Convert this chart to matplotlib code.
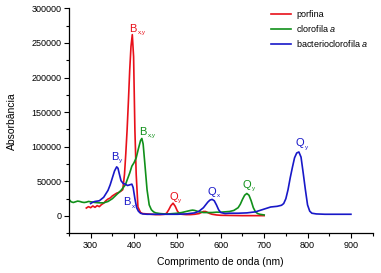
import matplotlib
matplotlib.use('Agg')
import matplotlib.pyplot as plt
from matplotlib.ticker import MultipleLocator

plt.rcParams['font.family'] = ['Liberation Sans', 'DejaVu Sans']
plt.rcParams['mathtext.fontset'] = 'custom'
plt.rcParams['mathtext.rm'] = 'Liberation Sans'
plt.rcParams['mathtext.it'] = 'Liberation Sans:italic'

# porfina
red_x = [290, 295, 300, 305, 310, 315, 320, 325, 330, 335, 340, 345, 350, 355,
         360, 365, 370, 374, 378, 381, 384, 387, 390, 393, 396, 399, 402, 405,
         409, 415, 420, 430, 440, 450, 460, 470, 475, 480, 485, 490, 495, 500,
         505, 510, 520, 530, 540, 550, 555, 560, 565, 570, 575, 580, 590, 600,
         620, 650, 680, 700]
red_y = [11500, 13500, 12000, 14500, 12500, 15000, 13500, 16500, 18500, 22000,
         24500, 26000, 29000, 31000, 33000, 34000, 36000, 38000, 60000, 90000,
         124000, 165000, 210000, 245000, 262000, 230000, 124000, 60000,
         13000, 5000, 3500, 3000, 2500, 2000, 2000, 2500, 4000, 9000, 15000,
         18500, 14000, 7000, 3500, 2500, 2000, 2000, 2500, 3500, 5000, 6500,
         6500, 5000, 3500, 2500, 1500, 1000, 800, 500, 500, 500]

# clorofila a
green_x = [250, 255, 260, 265, 270, 275, 280, 285, 290, 295, 300, 310, 320,
           330, 340, 350, 360, 370, 380, 390, 395, 400, 405, 410, 415, 418,
           421, 425, 430, 435, 440, 445, 450, 460, 470, 480, 490, 500, 510,
           520, 530, 535, 540, 550, 560, 570, 580, 590, 600, 610, 620, 630,
           640, 645, 650, 655, 660, 665, 670, 675, 680, 685, 690, 695, 700]
green_y = [24000, 20500, 19500, 20500, 21500, 21000, 20000, 19500, 20000, 21000,
           20500, 19500, 19000, 19000, 21000, 25000, 31000, 37000, 45000, 62000,
           72000, 77000, 84000, 97000, 109000, 112000, 104000, 75000, 38000,
           16000, 9000, 6000, 4500, 3500, 3000, 3000, 3500, 4000, 5000, 6500,
           8000, 8500, 8000, 6000, 5000, 5000, 5000, 5500, 5500, 6000, 6500,
           8000, 12000, 17000, 24000, 30000, 32500, 30000, 22000, 12000, 6000,
           3500, 2500, 2000, 1500]

# bacterioclorofila a
blue_x = [300, 305, 310, 320, 330, 340, 345, 350, 355, 360, 363, 366, 370,
          375, 380, 385, 390, 395, 398, 402, 406, 410, 415, 420, 430, 440,
          460, 480, 500, 520, 540, 550, 560, 565, 570, 575, 580, 585, 590,
          595, 600, 610, 620, 640, 660, 680, 690, 700, 715, 730, 740, 745,
          750, 755, 760, 765, 770, 775, 780, 785, 790, 795, 800, 805, 810,
          820, 840, 860, 880, 900]
blue_y = [18000, 20000, 21000, 22000, 27000, 37000, 45000, 55000, 65000, 71000,
          69000, 61000, 51000, 47000, 46000, 44000, 45000, 46000, 41000, 25000,
          12000, 7000, 4000, 3000, 2500, 2500, 2500, 2500, 2500, 3000, 4500,
          7000, 12000, 16000, 20000, 23000, 24000, 22000, 16000, 9000, 5000,
          3500, 4000, 4000, 4500, 6000, 8000, 10000, 13000, 14000, 15500, 18000,
          25000, 38000, 55000, 70000, 84000, 91000, 92500, 85000, 62000, 38000,
          16000, 7000, 4000, 3000, 2500, 2500, 2500, 2500]

series_names = ['porfina', 'clorofila $a$', 'bacterioclorofila $a$']
colors = ['#e8101a', '#10901a', '#1818c8']

# band labels: (letter, subscript, x, y, color index)
bands = [
    ('B', 'x,y', 389, 266000, 0),
    ('B', 'x,y', 412, 117000, 1),
    ('B', 'y', 347, 81000, 2),
    ('B', 'x', 376, 15500, 2),
    ('Q', 'y', 481, 23500, 0),
    ('Q', 'x', 569, 31000, 2),
    ('Q', 'y', 650, 40500, 1),
    ('Q', 'y', 773, 101000, 2),
]

fig = plt.figure(figsize=(3.81, 2.73), dpi=100)
ax = fig.add_axes([0.181, 0.1454, 0.797, 0.8242])

for xs, ys, name, c in zip([red_x, green_x, blue_x], [red_y, green_y, blue_y],
                           series_names, colors):
    ax.plot(xs, ys, color=c, linewidth=1.2, label=name)

for letter, sub, x, y, ci in bands:
    ax.text(x, y, letter, color=colors[ci], fontsize=8, ha='left', va='baseline')
    dx = 6.0 if letter == 'B' else 6.6
    ax.annotate(sub, xy=(x, y), xytext=(dx, -1.8), textcoords='offset points',
                color=colors[ci], fontsize=4.5, ha='left', va='baseline')

ax.set_xlim(250, 950)
ax.set_ylim(-25000, 300000)
ax.xaxis.set_major_locator(MultipleLocator(100))
ax.xaxis.set_minor_locator(MultipleLocator(50))
ax.yaxis.set_major_locator(MultipleLocator(50000))
ax.yaxis.set_minor_locator(MultipleLocator(25000))
ax.set_xticks([300, 400, 500, 600, 700, 800, 900])

for side in ['top', 'right']:
    ax.spines[side].set_visible(False)
for side in ['left', 'bottom']:
    ax.spines[side].set_linewidth(0.9)

ax.tick_params(which='major', direction='out', length=3.5, width=0.8,
               labelsize=6.5, pad=2)
ax.tick_params(which='minor', direction='out', length=2, width=0.8)

ax.set_xlabel('Comprimento de onda (nm)', fontsize=7.5, labelpad=5)
ax.set_ylabel('Absorbância', fontsize=7.5, labelpad=10)

ax.legend(loc='upper left', bbox_to_anchor=(0.645, 1.02), frameon=False,
          fontsize=6.5, handlelength=2.2, handletextpad=0.6, labelspacing=0.45,
          borderpad=0.2)

fig.savefig('out.png', dpi=100)
